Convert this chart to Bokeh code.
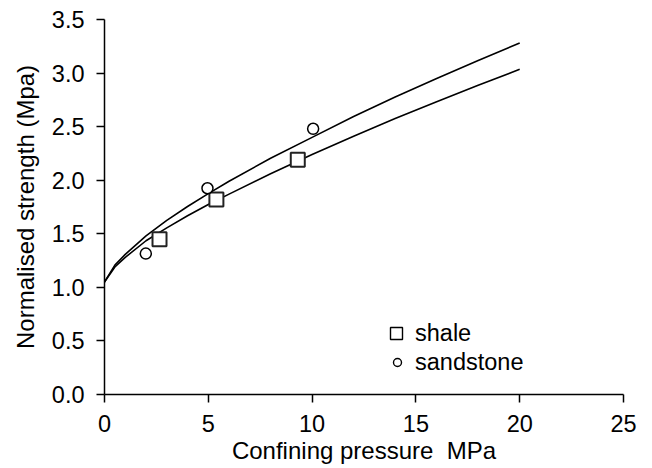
from bokeh.plotting import figure
from bokeh.models import Range1d, Legend, LegendItem, FixedTicker
from bokeh.embed import file_html
from bokeh.resources import INLINE

# Measured data points
shale_x = [2.65, 5.39, 9.31]
shale_y = [1.45, 1.82, 2.19]
sand_x = [1.99, 4.96, 10.05]
sand_y = [1.315, 1.925, 2.48]

# Fitted curves
curve_x = [0, 0.5, 1, 2, 3, 4, 5, 6, 8, 10, 12, 14, 16, 18, 20]
sand_fit_y = [1.05, 1.207, 1.308, 1.48, 1.625, 1.755, 1.875, 1.99, 2.205, 2.40, 2.594, 2.776, 2.949, 3.117, 3.28]
shale_fit_y = [1.05, 1.19, 1.28, 1.435, 1.555, 1.668, 1.773, 1.87, 2.06, 2.24, 2.411, 2.575, 2.733, 2.886, 3.035]

x_ticks = [0, 5, 10, 15, 20, 25]
y_ticks = [0.0, 0.5, 1.0, 1.5, 2.0, 2.5, 3.0, 3.5]

FONT = "Liberation Sans"
NAN = float("nan")

p = figure(width=644, height=466, output_backend="svg", toolbar_location=None,
           x_range=Range1d(0, 25), y_range=Range1d(0, 3.5),
           min_border_left=104, min_border_top=19, min_border_right=21, min_border_bottom=72)
p.outline_line_color = None
p.grid.visible = False
p.background_fill_color = "white"
p.border_fill_color = "white"

p.line(curve_x, sand_fit_y, line_color="black", line_width=1.6)
p.line(curve_x, shale_fit_y, line_color="black", line_width=1.6)

p.scatter(shale_x, shale_y, marker="square", size=14, fill_color="white",
          line_color="#222222", line_width=2)
p.scatter(sand_x, sand_y, marker="circle", size=11, fill_color="white",
          line_color="black", line_width=1.5)

# legend proxies (not drawn on the plot: NaN position)
lg_sq = p.scatter(x=[NAN], y=[NAN], marker="square", size=12, fill_color="white",
                  line_color="black", line_width=1.4)
lg_ci = p.scatter(x=[NAN], y=[NAN], marker="circle", size=8, fill_color="white",
                  line_color="black", line_width=1.4)

common = dict(orientation="vertical", border_line_color=None, background_fill_alpha=0,
              padding=0, margin=0, spacing=0,
              label_text_font=FONT, label_text_font_size="23.5px",
              label_text_color="black")

legend1 = Legend(items=[LegendItem(label="shale", renderers=[lg_sq])],
                 location=(277, 46), glyph_width=30, glyph_height=30, label_height=30,
                 label_standoff=4, **common)
legend2 = Legend(items=[LegendItem(label="sandstone", renderers=[lg_ci])],
                 location=(283, 17), glyph_width=20, glyph_height=30, label_height=30,
                 label_standoff=8, **common)
p.add_layout(legend1)
p.add_layout(legend2)

for ax in (p.xaxis[0], p.yaxis[0]):
    ax.axis_line_color = "black"
    ax.axis_line_width = 1.5
    ax.major_tick_line_color = "black"
    ax.major_tick_line_width = 1.5
    ax.major_tick_out = 8
    ax.major_tick_in = 0
    ax.minor_tick_line_color = None
    ax.major_label_text_font = FONT
    ax.major_label_text_font_size = "23.5px"
    ax.major_label_text_color = "black"
    ax.axis_label_text_font = FONT
    ax.axis_label_text_font_size = "24px"
    ax.axis_label_text_font_style = "normal"
    ax.axis_label_text_color = "black"

p.xaxis[0].ticker = FixedTicker(ticks=x_ticks)
p.yaxis[0].ticker = FixedTicker(ticks=y_ticks)
p.yaxis[0].major_label_overrides = {v: f"{v:.1f}" for v in y_ticks}
p.xaxis[0].axis_label = "Confining pressure\u00a0 MPa"
p.yaxis[0].axis_label = "Normalised strength (Mpa)"
p.xaxis[0].major_label_standoff = 12
p.yaxis[0].major_label_standoff = 12
p.xaxis[0].axis_label_standoff = 2
p.yaxis[0].axis_label_standoff = 10

open("out.html", "w").write(file_html(p, INLINE))
